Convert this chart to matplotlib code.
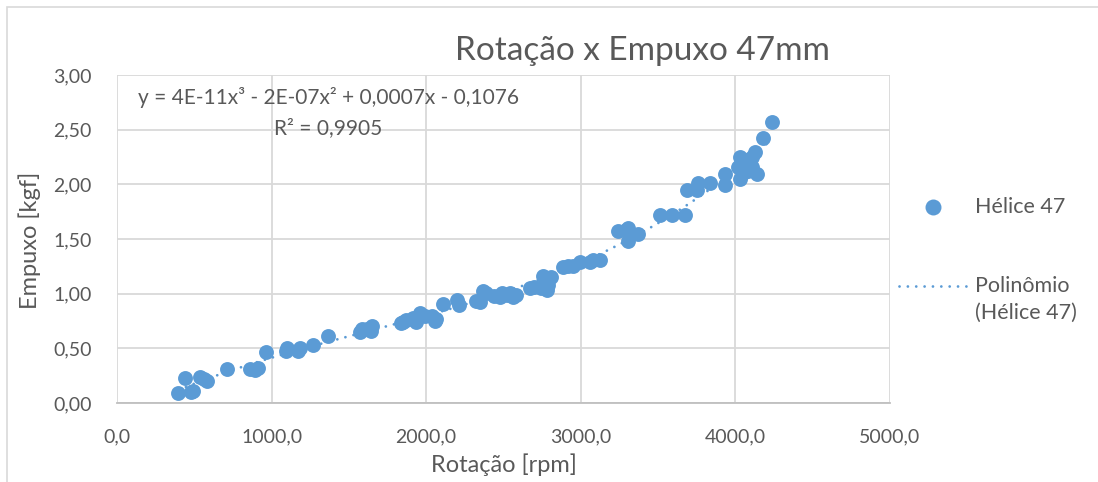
import numpy as np
import matplotlib
matplotlib.use("Agg")
import matplotlib.pyplot as plt
from matplotlib.lines import Line2D
from matplotlib.patches import Rectangle

# Measured propeller data: rotation speed [rpm] vs thrust [kgf]
rotacao = [395, 440, 477, 490, 537, 560, 580, 709, 860, 895, 914, 964, 1093, 1100,
           1173, 1185, 1266, 1367, 1572, 1583, 1615, 1647, 1640, 1840, 1852, 1870,
           1915, 1935, 1960, 1990, 2040, 2057, 2065, 2111, 2197, 2210, 2320, 2348,
           2370, 2390, 2440, 2477, 2490, 2520, 2540, 2563, 2580, 2671, 2700, 2740,
           2757, 2779, 2790, 2810, 2887, 2920, 2952, 2995, 3060, 3081, 3124, 3243,
           3290, 3308, 3308, 3372, 3512, 3588, 3674, 3685, 3750, 3755, 3836, 3933,
           3933, 4019, 4030, 4030, 4040, 4050, 4073, 4084, 4090, 4105, 4110, 4127,
           4138, 4181, 4235]
empuxo = [0.09, 0.23, 0.10, 0.11, 0.24, 0.22, 0.20, 0.31, 0.31, 0.30, 0.32, 0.47, 0.48, 0.50,
          0.48, 0.50, 0.53, 0.61, 0.65, 0.68, 0.68, 0.70, 0.66, 0.73, 0.74, 0.76,
          0.78, 0.74, 0.82, 0.80, 0.80, 0.75, 0.77, 0.91, 0.94, 0.90, 0.93, 0.92,
          1.02, 1.01, 0.98, 0.97, 1.01, 0.99, 1.01, 0.97, 0.99, 1.05, 1.06, 1.05,
          1.16, 1.03, 1.08, 1.15, 1.24, 1.25, 1.25, 1.29, 1.29, 1.31, 1.31, 1.57,
          1.58, 1.60, 1.48, 1.55, 1.72, 1.72, 1.72, 1.95, 1.95, 2.01, 2.01, 2.09,
          1.99, 2.16, 2.25, 2.05, 2.20, 2.10, 2.22, 2.12, 2.18, 2.16, 2.25, 2.30,
          2.09, 2.42, 2.57]

x_ticks = [0, 1000, 2000, 3000, 4000, 5000]
y_ticks = [0.0, 0.5, 1.0, 1.5, 2.0, 2.5, 3.0]

titulo = "Rotação x Empuxo 47mm"
equacao = "y = 4E-11x³ - 2E-07x² + 0,0007x - 0,1076"
r2 = "R² = 0,9905"
serie = "Hélice 47"

azul = "#5B9BD5"
cinza_txt = "#595959"
cinza_grade = "#D9D9D9"

plt.rcParams["font.family"] = ["Lato", "DejaVu Sans"]

fig = plt.figure(figsize=(10.98, 4.82), dpi=100)
W, H = 1098, 482
# chart area outline
fig.add_artist(Rectangle((7 / W, -0.1), 1.2, (H - 7) / H + 0.1,
                         transform=fig.transFigure, fill=False,
                         edgecolor=cinza_grade, linewidth=1.2))

ax = fig.add_axes([117 / W, (H - 403) / H, (890 - 117) / W, (403 - 75) / H])
ax.set_xlim(0, 5000)
ax.set_ylim(0, 3.0)
ax.set_xticks(x_ticks)
ax.set_yticks(y_ticks)
ax.set_xticklabels([f"{v:.1f}".replace(".", ",") for v in x_ticks])
ax.set_yticklabels([f"{v:.2f}".replace(".", ",") for v in y_ticks])
ax.tick_params(length=0, labelsize=14, labelcolor=cinza_txt)
ax.tick_params(axis="y", pad=18)
ax.tick_params(axis="x", pad=18)
ax.grid(True, color=cinza_grade, linewidth=1.3, zorder=0)
ax.set_axisbelow(True)
for s in ["top", "right", "left"]:
    ax.spines[s].set_visible(False)
ax.spines["bottom"].set_color("#BFBFBF")
ax.spines["bottom"].set_linewidth(1.3)

# cubic trendline fitted to the data
coef = np.polyfit(rotacao, empuxo, 3)
xs = np.linspace(min(rotacao), max(rotacao), 400)
ax.plot(xs, np.polyval(coef, xs), color=azul, linewidth=2.0,
        dashes=(0.01, 3.0), dash_capstyle="round", zorder=2)

ax.scatter(rotacao, empuxo, s=115, color=azul, linewidths=0, zorder=3)

ax.set_xlabel("Rotação [rpm]", fontsize=17, color=cinza_txt, va="center")
ax.xaxis.set_label_coords(0.5, (403 - 465) / 328)
ax.set_ylabel("Empuxo [kgf]", fontsize=17, color=cinza_txt, va="center")
ax.yaxis.set_label_coords((30 - 117) / 773, 0.497)

fig.text(642 / W, (H - 60) / H, titulo, fontsize=24, color=cinza_txt,
         ha="center", va="baseline")

ax.text(0.273, 0.93, equacao, transform=ax.transAxes, fontsize=15,
        color=cinza_txt, ha="center", va="center")
ax.text(0.273, 0.838, r2, transform=ax.transAxes, fontsize=15,
        color=cinza_txt, ha="center", va="center")

# legend
fig.add_artist(Line2D([933 / W], [(H - 207) / H], marker="o", markersize=11.5,
                      color=azul, markeredgewidth=0, transform=fig.transFigure))
fig.text(975 / W, (H - 207) / H, serie, fontsize=15.5, color=cinza_txt,
         ha="left", va="center")
fig.add_artist(Line2D([899 / W, 968 / W], [(H - 286) / H, (H - 286) / H],
                      color=azul, linewidth=2.0, dashes=(0.01, 3.0),
                      dash_capstyle="round", transform=fig.transFigure))
fig.text(975 / W, (H - 286) / H, "Polinômio", fontsize=15.5, color=cinza_txt,
         ha="left", va="center")
fig.text(975 / W, (H - 313) / H, "(Hélice 47)", fontsize=15.5, color=cinza_txt,
         ha="left", va="center")

fig.savefig("out.png", dpi=100, facecolor="white")
